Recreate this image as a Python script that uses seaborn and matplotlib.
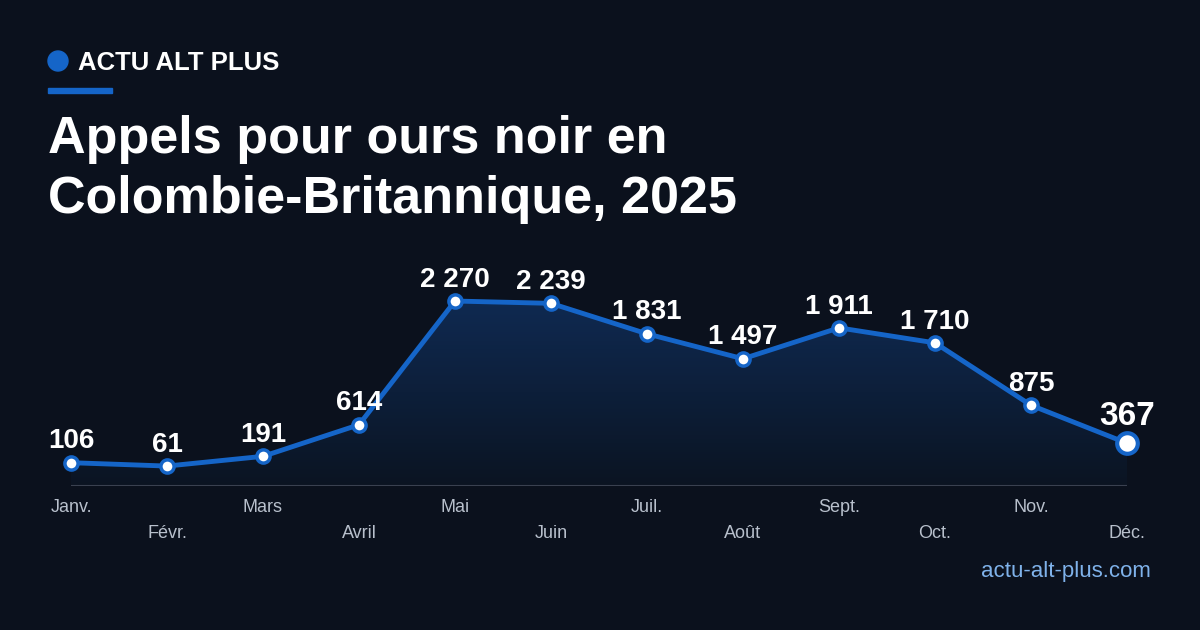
import matplotlib
matplotlib.use("Agg")
import matplotlib.pyplot as plt
import seaborn as sns
import numpy as np
import pandas as pd
from matplotlib.patches import Polygon
from matplotlib.colors import LinearSegmentedColormap

months = ["Janv.", "Févr.", "Mars", "Avril", "Mai", "Juin", "Juil.", "Août", "Sept.", "Oct.", "Nov.", "Déc."]
values = [106, 61, 191, 614, 2270, 2239, 1831, 1497, 1911, 1710, 875, 367]
labels = ["106", "61", "191", "614", "2 270", "2 239", "1 831", "1 497", "1 911", "1 710", "875", "367"]

BG = "#0b111d"
BLUE = "#1565c8"
sns.set_theme(style="white")
plt.rcParams['font.family'] = ['Liberation Sans', 'DejaVu Sans']

fig = plt.figure(figsize=(12, 6.3), dpi=100, facecolor=BG)
ax = fig.add_axes([71/1200, 1-486/630, (1127-71)/1200, (486-250)/630])
ax.set_facecolor("none")
x = np.arange(len(values))
df = pd.DataFrame({"x": x, "v": values})

grad = np.linspace(0, 1, 256).reshape(-1, 1)
cmap = LinearSegmentedColormap.from_list("g", [(0, "#0b1422"), (1, "#0f2a52")])
im = ax.imshow(grad, extent=[0, 11, -206, 2300], aspect="auto", cmap=cmap, zorder=1, origin="lower")
poly = Polygon(list(zip(x, values)) + [(11, -206), (0, -206)], closed=True, transform=ax.transData)
im.set_clip_path(poly)

sns.lineplot(data=df, x="x", y="v", ax=ax, color=BLUE, lw=3.5, zorder=3)
ax.set_xlim(0, 11)
ax.set_ylim(-206, 2953)
ax.scatter(x[:-1], values[:-1], s=90, color="white", edgecolor=BLUE, linewidth=2.5, zorder=4, clip_on=False)
ax.scatter([x[-1]], [values[-1]], s=220, color="white", edgecolor=BLUE, linewidth=3, zorder=4, clip_on=False)
for i, (v, l) in enumerate(zip(values, labels)):
    last = i == len(values) - 1
    ax.annotate(l, (i, v), xytext=(0, 6 if not last else 8), textcoords="offset points",
                ha="center", va="bottom", color="white", fontsize=20 if not last else 24, fontweight="bold")
for s in ax.spines.values():
    s.set_visible(False)
ax.axhline(-206, color="#3a4150", lw=1.5, zorder=2)
ax.set_xticks([]); ax.set_yticks([])
ax.set_xlabel(""); ax.set_ylabel("")
for i, m in enumerate(months):
    yy = 508 if i % 2 == 0 else 534
    fig.text((71 + i*(1127-71)/11)/1200, 1-yy/630, m, ha="center", va="center", color="#b8c0cc", fontsize=13)

c = matplotlib.patches.Circle((0.58, 6.3-0.61), 0.1, transform=fig.dpi_scale_trans, color=BLUE)
fig.patches.append(c)
fig.text(78/1200, 1-63/630, "ACTU ALT PLUS", color="white", fontsize=18.5, fontweight="bold", va="center")
fig.patches.append(matplotlib.patches.Rectangle((48/1200, 1-93/630), 64/1200, 5/630, transform=fig.transFigure, color=BLUE))
fig.text(48/1200, 1-140/630, "Appels pour ours noir en", color="white", fontsize=37.5, fontweight="bold", va="center")
fig.text(48/1200, 1-200/630, "Colombie-Britannique, 2025", color="white", fontsize=37.5, fontweight="bold", va="center")
fig.text(1151/1200, 1-571/630, "actu-alt-plus.com", color="#7fb2ea", fontsize=16, ha="right", va="center")
fig.savefig("out.png", facecolor=BG)
